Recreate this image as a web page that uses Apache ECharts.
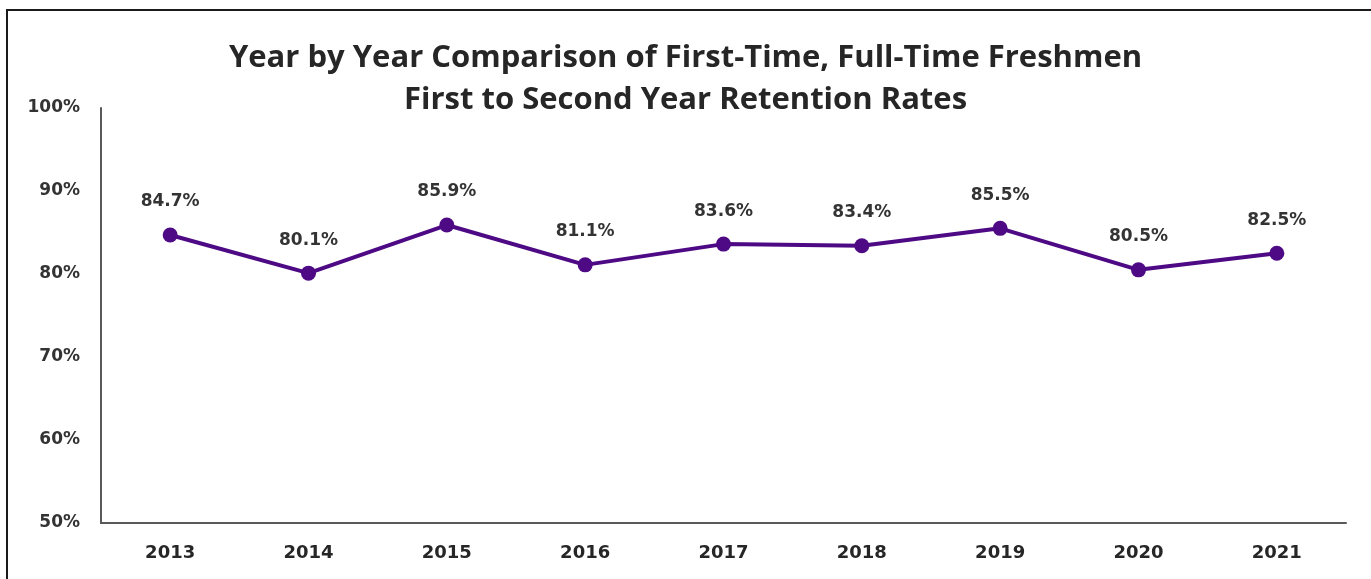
<!DOCTYPE html>
<html>
<head>
<meta charset="utf-8">
<script src="https://cdn.jsdelivr.net/npm/echarts@6/dist/echarts.min.js"></script>
<style>
  html, body { margin: 0; padding: 0; background: #fff; }
  #chart { width: 1371px; height: 579px; }
</style>
</head>
<body>
<div id="chart"></div>
<script>
// 数据
var years = ['2013', '2014', '2015', '2016', '2017', '2018', '2019', '2020', '2021'];
var retention = [84.7, 80.1, 85.9, 81.1, 83.6, 83.4, 85.5, 80.5, 82.5];
var yTicks = [50, 60, 70, 80, 90, 100];
var titleLines = ['Year by Year Comparison of First-Time, Full-Time Freshmen', 'First to Second Year Retention Rates'];

var myChart = echarts.init(document.getElementById('chart'));

var option = {
	backgroundColor: '#fff',
	title: {
		text: titleLines.join('\n'),
		left: 'center',
		top: 32,
		textStyle: {
			fontFamily: 'Open Sans',
			fontWeight: 'bold',
			fontSize: 31,
			lineHeight: 42,
			color: '#262626'
		}
	},
	graphic: [{
		// 外框
		type: 'rect',
		shape: { x: 7, y: 10, width: 1400, height: 700 },
		style: { fill: 'none', stroke: '#1a1a1a', lineWidth: 2 },
		silent: true
	}],
	grid: {
		left: 101,
		right: 25,
		top: 108,
		bottom: 56
	},
	xAxis: {
		type: 'category',
		data: years,
		boundaryGap: true,
		axisTick: { show: false },
		axisLine: { lineStyle: { color: '#595959', width: 2 } },
		axisLabel: {
			margin: 21,
			fontFamily: 'DejaVu Sans',
			fontWeight: 'bold',
			fontSize: 18,
			color: '#262626'
		}
	},
	yAxis: {
		type: 'value',
		min: yTicks[0],
		max: yTicks[yTicks.length - 1],
		interval: 10,
		splitLine: { show: false },
		axisTick: { show: false },
		axisLine: { show: true, lineStyle: { color: '#595959', width: 2 } },
		axisLabel: {
			margin: 21,
			fontFamily: 'DejaVu Sans',
			fontWeight: 'bold',
			fontSize: 17,
			color: '#333',
			formatter: '{value}%'
		}
	},
	series: [{
		type: 'line',
		data: retention,
		symbol: 'circle',
		symbolSize: 15,
		lineStyle: { color: '#4e0a84', width: 4 },
		itemStyle: { color: '#4e0a84' },
		label: {
			show: true,
			position: 'top',
			distance: 17,
			fontFamily: 'DejaVu Sans',
			fontWeight: 'bold',
			fontSize: 17,
			color: '#333',
			formatter: function (p) { return p.value.toFixed(1) + '%'; }
		},
		animation: false
	}],
	animation: false
};

myChart.setOption(option);
window.addEventListener('resize', function () {
	myChart.resize();
});
</script>
</body>
</html>
